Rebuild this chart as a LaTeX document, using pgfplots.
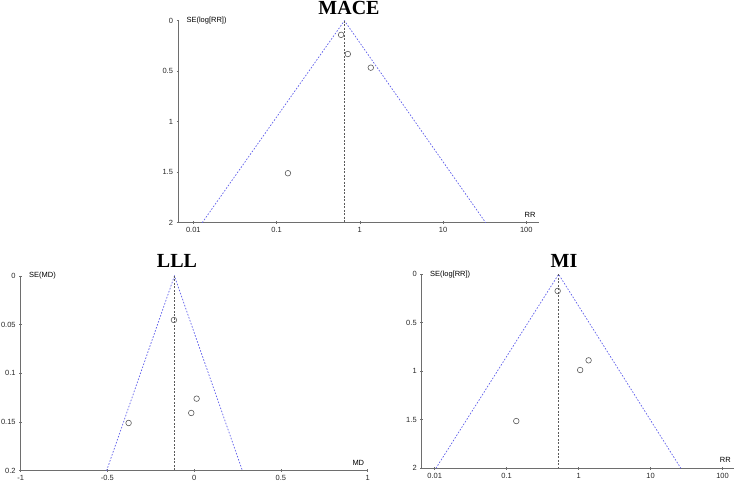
\documentclass[border=0pt]{standalone}
\usepackage{fontspec}
\setmainfont{Liberation Sans}
\newfontfamily\titlefont{Liberation Serif}
\usepackage{pgfplots}
\pgfplotsset{compat=1.18}
\definecolor{funnel}{RGB}{95,95,235}
\definecolor{axgray}{RGB}{110,110,110}
\definecolor{midgray}{RGB}{90,90,90}

\pgfplotsset{
  funnelplot/.style={
    scale only axis,
    anchor=south west,
    y dir=reverse,
    axis lines=left,
    axis line style={-,axgray,line width=0.7pt},
    tick style={axgray,line width=0.6pt},
    tick align=center,
    major tick length=3pt,
    xminorticks=false, yminorticks=false,
    clip=false,
    tick label style={font=\fontsize{7.5}{8}\selectfont,text=black!85},
    every axis y label/.style={at={(axis description cs:0,1)},anchor=west,xshift=5pt,
      font=\fontsize{7.5}{8}\selectfont},
    every axis x label/.style={at={(axis description cs:1,0)},anchor=south east,yshift=2pt,
      font=\fontsize{7.5}{8}\selectfont},
  },
  fline/.style={funnel,dash pattern=on 1.6pt off 1.6pt,line width=0.7pt},
  vline/.style={midgray,dash pattern=on 2pt off 1.5pt,line width=0.8pt},
  studies/.style={only marks,mark=o,mark size=2.8pt,mark options={midgray,line width=0.6pt}},
}

\begin{document}
\begin{tikzpicture}
\path[use as bounding box] (0pt,0pt) rectangle (737pt,481pt);

% MACE
\begin{axis}[funnelplot,
    at={(178pt,258.3pt)}, width=361pt, height=202pt,
    xmode=log, xmin=0.00655, xmax=142, ymin=0, ymax=2,
    xtick={0.01,0.1,1,10,100}, xticklabels={0.01,0.1,1,10,100},
    ytick={0,0.5,1,1.5,2}, yticklabels={0,0.5,1,1.5,2},
    ylabel={SE(log[RR])}, xlabel={RR}]
\addplot[fline] coordinates {(0.0128,2) (0.653,0) (32.5,2)};
\addplot[vline] coordinates {(0.653,0) (0.653,2)};
\addplot[studies] coordinates {(0.596,0.14) (0.718,0.33) (1.355,0.465) (0.137,1.51)};
\end{axis}

% LLL
\begin{axis}[funnelplot,
    at={(20.7pt,10.3pt)}, width=347pt, height=194.7pt,
    xmin=-1, xmax=1, ymin=0, ymax=0.2,
    xtick={-1,-0.5,0,0.5,1}, xticklabels={-1,-0.5,0,0.5,1},
    ytick={0,0.05,0.1,0.15,0.2}, yticklabels={0,0.05,0.1,0.15,0.2},
    ylabel={SE(MD)}, xlabel={MD}]
\addplot[fline] coordinates {(-0.505,0.2) (-0.114,0) (0.278,0.2)};
\addplot[vline] coordinates {(-0.114,0) (-0.114,0.2)};
\addplot[studies] coordinates {(-0.117,0.0452) (0.014,0.126) (-0.017,0.1407) (-0.378,0.151)};
\end{axis}

% MI
\begin{axis}[funnelplot,
    at={(421.7pt,12.7pt)}, width=312.6pt, height=194pt,
    xmode=log, xmin=0.0066, xmax=145.5, ymin=0, ymax=2,
    xtick={0.01,0.1,1,10,100}, xticklabels={0.01,0.1,1,10,100},
    ytick={0,0.5,1,1.5,2}, yticklabels={0,0.5,1,1.5,2},
    ylabel={SE(log[RR])}, xlabel={RR}]
\addplot[fline] coordinates {(0.0104,2) (0.527,0) (26.3,2)};
\addplot[vline] coordinates {(0.527,0) (0.527,2)};
\addplot[studies] coordinates {(0.511,0.172) (1.376,0.887) (1.05,0.987) (0.136,1.513)};
\end{axis}

\node[anchor=base,font=\titlefont\bfseries\fontsize{20}{22}\selectfont] at (349pt,466pt) {MACE};
\node[anchor=base,font=\titlefont\bfseries\fontsize{20}{22}\selectfont] at (177pt,213.7pt) {LLL};
\node[anchor=base,font=\titlefont\bfseries\fontsize{20}{22}\selectfont] at (564pt,213.7pt) {MI};
\end{tikzpicture}
\end{document}
